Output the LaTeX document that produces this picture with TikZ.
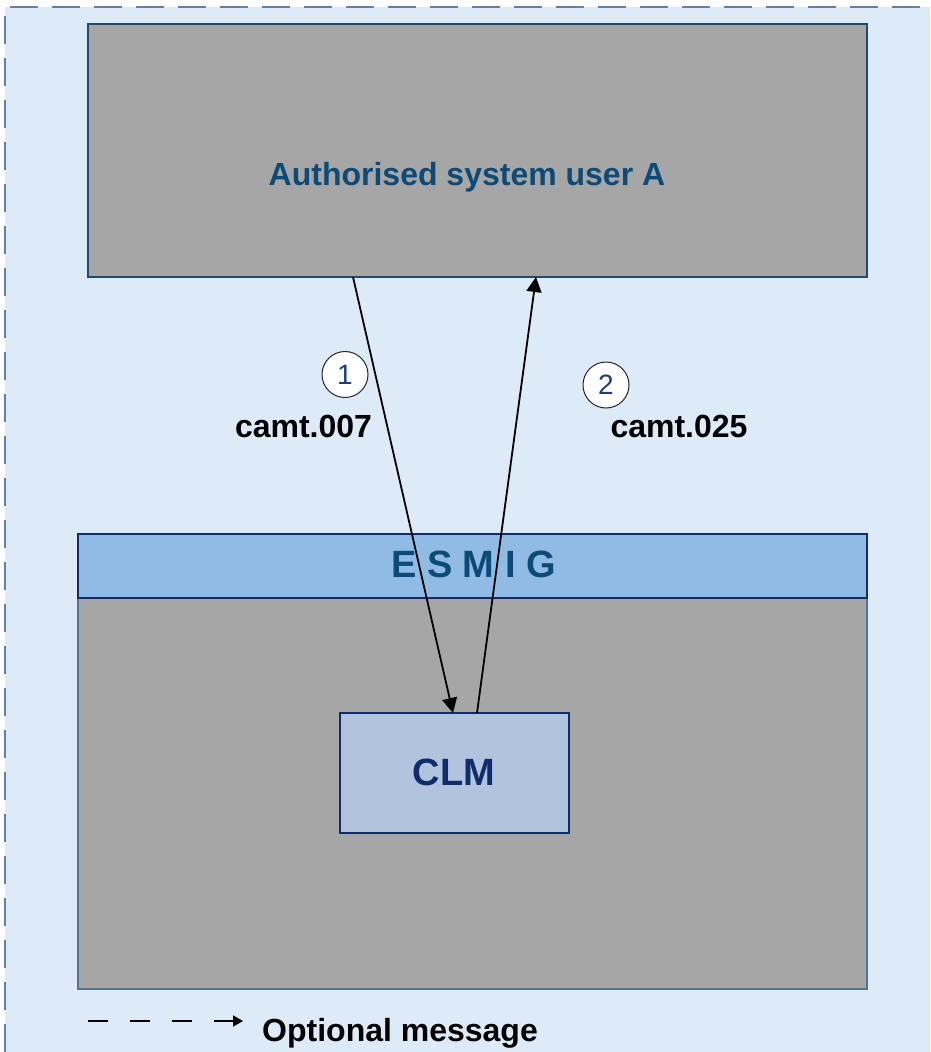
\documentclass[tikz,border=0pt]{standalone}
\usepackage{fontspec}
\setmainfont{Liberation Sans}
\usetikzlibrary{arrows.meta}
\definecolor{bgblue}{HTML}{DDEAF7}
\definecolor{frameblue}{HTML}{5F7FAE}
\definecolor{boxgray}{HTML}{A6A6A6}
\definecolor{usrborder}{HTML}{1D4C72}
\definecolor{grayborder}{HTML}{4D7597}
\definecolor{esmigfill}{HTML}{8FBBE5}
\definecolor{navy}{HTML}{0F2D6B}
\definecolor{clmfill}{HTML}{B0C4DE}
\definecolor{titleblue}{HTML}{0C4A78}
\definecolor{numblue}{HTML}{1F3D7A}
\tikzset{
  box/.style={rectangle, inner sep=0pt, outer sep=0pt, anchor=north west},
  lbl/.style={inner sep=0pt, font=\fontsize{32}{38}\selectfont\bfseries},
  num/.style={circle, draw=black!85, fill=white, line width=1pt, minimum size=46pt, inner sep=0pt,
              text=numblue, font=\fontsize{28}{32}\selectfont},
  msg/.style={black, line width=1.8pt, -{Triangle[length=15pt,width=15pt]}},
}
\begin{document}
\begin{tikzpicture}[x=1pt,y=-1pt]
\useasboundingbox (0,0) rectangle (930,1052);
% background and dashed frame
\fill[bgblue] (5,7) rectangle (930,1052);
\draw[frameblue, line width=1.6pt, dash pattern=on 28pt off 14pt] (5,1052) -- (5,7) -- (930,7);
% boxes
\node[box, draw=usrborder, line width=1.5pt, fill=boxgray, minimum width=779pt, minimum height=253pt] (usr) at (88,24) {};
\node[lbl, text=titleblue, anchor=base] (usrlbl) at (467,185) {Authorised system user A};
\node[box, draw=grayborder, line width=1.5pt, fill=boxgray, minimum width=789pt, minimum height=391pt] (core) at (78,598) {};
\node[box, draw=navy, line width=2pt, fill=esmigfill, minimum width=789pt, minimum height=64pt] (esmig) at (78,534) {};
\node[inner sep=0pt, text=titleblue, font=\fontsize{38}{44}\selectfont\bfseries, anchor=base] (esmiglbl) at (473.5,577) {E S M I G};
\node[box, draw=navy, line width=2pt, fill=clmfill, minimum width=229pt, minimum height=120pt] (clm) at (340,713) {};
\node[inner sep=0pt, text=navy, font=\fontsize{38}{44}\selectfont\bfseries, anchor=base] (clmlbl) at (454,785) {CLM};
% messages
\draw[msg] ([xshift=-124.5pt]usr.south) -- ([xshift=-1.5pt]clm.north);
\draw[msg] ([xshift=22.5pt]clm.north) -- ([xshift=58.5pt]usr.south);
\node[num] (n1) at (345,374.5) {1};
\node[num] (n2) at (606,385) {2};
\node[lbl, anchor=base] (m1) at (303.5,437) {camt.007};
\node[lbl, anchor=base] (m2) at (679,437) {camt.025};
% legend
\coordinate (lg1) at (88,1021);
\coordinate (lg2) at (243,1021);
\draw[black, line width=1.8pt, dash pattern=on 20pt off 22pt, -{Triangle[length=10pt,width=11pt]}] (lg1) -- (lg2);
\node[lbl, anchor=base west] (lgt) at (262,1041) {Optional message};
\end{tikzpicture}
\end{document}
